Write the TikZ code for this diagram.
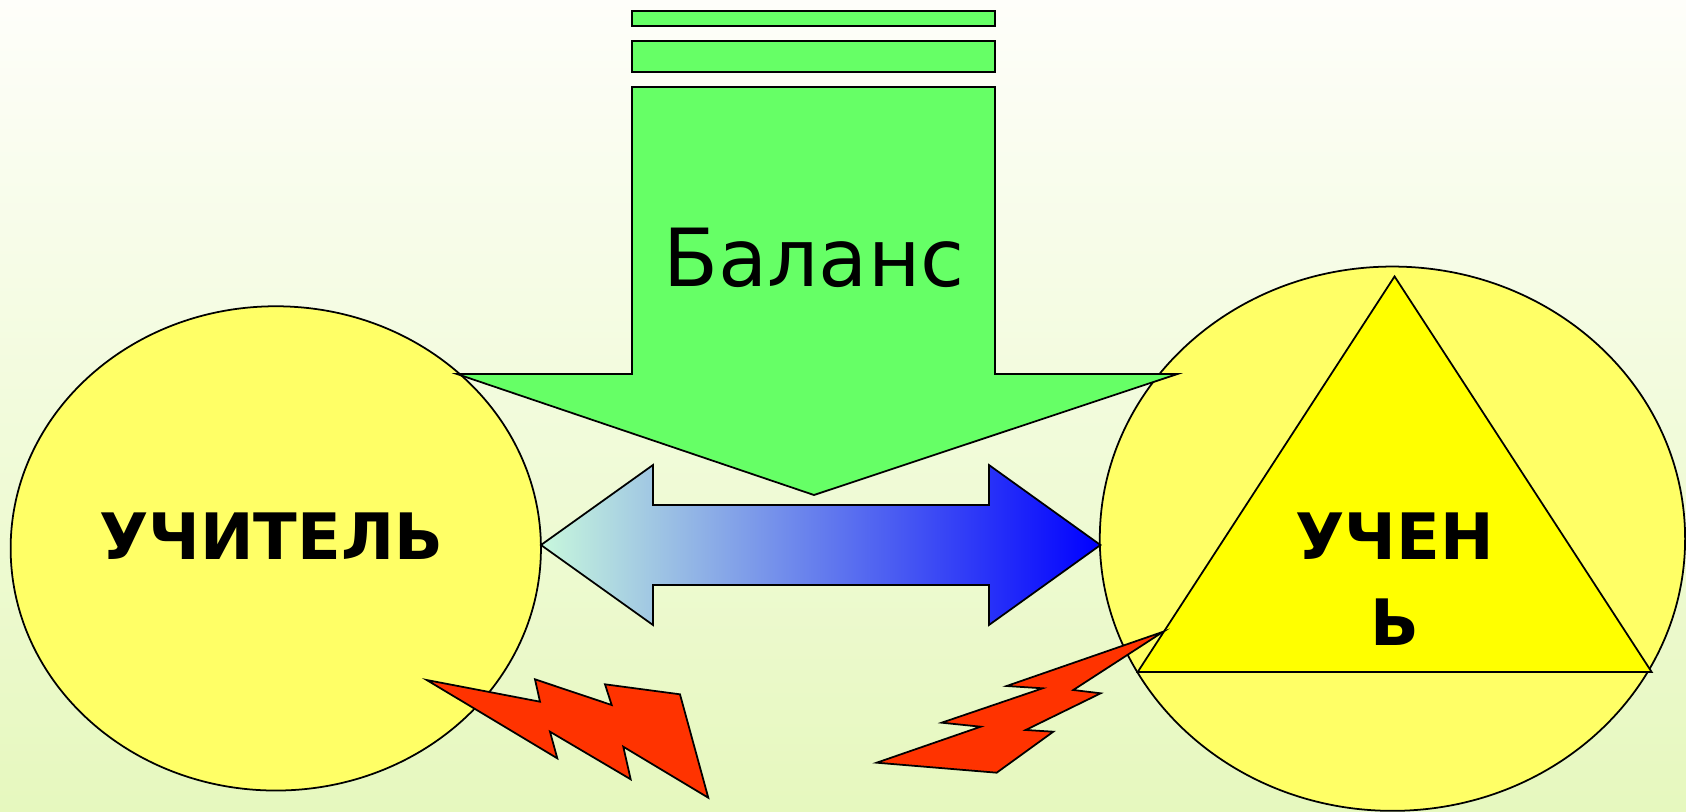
\documentclass[tikz,border=0pt]{standalone}
\usepackage{fontspec}
\setmainfont{DejaVu Sans}
\usetikzlibrary{shapes.geometric}

\definecolor{bgtop}{RGB}{254,254,250}
\definecolor{bgbottom}{RGB}{230,248,190}
\definecolor{ovalyellow}{RGB}{255,255,102}
\definecolor{triyellow}{RGB}{255,255,0}
\definecolor{arrowgreen}{RGB}{102,255,102}
\definecolor{boltred}{RGB}{255,51,0}
\definecolor{mint}{RGB}{200,248,220}

\begin{document}
\begin{tikzpicture}[x=0.01cm, y=-0.01cm, line width=0.5pt,
  oval/.style={ellipse, draw=black, fill=ovalyellow, inner sep=0pt},
  greenpart/.style={draw=black, fill=arrowgreen},
  bolt/.style={draw=black, fill=boltred, line join=miter},
  bigword/.style={font=\fontsize{18.2}{22}\selectfont\bfseries, anchor=base}]
  \shade[top color=bgtop, bottom color=bgbottom] (0,0) rectangle (1686,811);

  \node[oval, minimum width=5.30cm, minimum height=4.84cm] (teacher) at (275.8,548.4) {};
  \node[oval, minimum width=5.85cm, minimum height=5.44cm] (pupil) at (1392.5,538.7) {};
  \draw[fill=triyellow] (1394.6,276.4) -- (1651.7,672) -- (1137.7,672) -- cycle;

  \draw[greenpart] (632,11) rectangle (995,26);
  \draw[greenpart] (632,41) rectangle (995,72);
  \draw[greenpart] (632,87) -- (995,87) -- (995,374) -- (1177.5,374) -- (814,495)
    -- (457,374) -- (632,374) -- cycle;
  \node[font=\fontsize{22.8}{26}\selectfont, anchor=base] (balance) at (814,286) {Баланс};

  \draw[left color=mint, right color=blue] (541,545) -- (653,465) -- (653,505) -- (989,505)
    -- (989,465) -- (1100.5,545) -- (989,625) -- (989,585) -- (653,585) -- (653,625) -- cycle;

  \draw[bolt] (426.7,680) -- (540,701.7) -- (535,679.3) -- (611.7,705) -- (605,684.3)
    -- (680,694.3) -- (708.3,797.7) -- (623.3,746.7) -- (630.7,779.3) -- (550,731.7)
    -- (557.3,758.3) -- cycle;
  \draw[bolt] (1163.3,631.7) -- (1006.7,686) -- (1042.7,688.3) -- (941.7,722.7)
    -- (980.7,726.7) -- (876.7,762.7) -- (996.7,772.7) -- (1053.3,731.7)
    -- (1025.7,730) -- (1100.7,693.3) -- (1073.3,690) -- cycle;

  \node[bigword] (teachername) at (271,559) {УЧИТЕЛЬ};
  \node[bigword] (pupilname) at (1394.6,559) {УЧЕН};
  \node[bigword] (pupilend) at ([yshift=-0.86cm]pupilname.base) {Ь};
\end{tikzpicture}
\end{document}
